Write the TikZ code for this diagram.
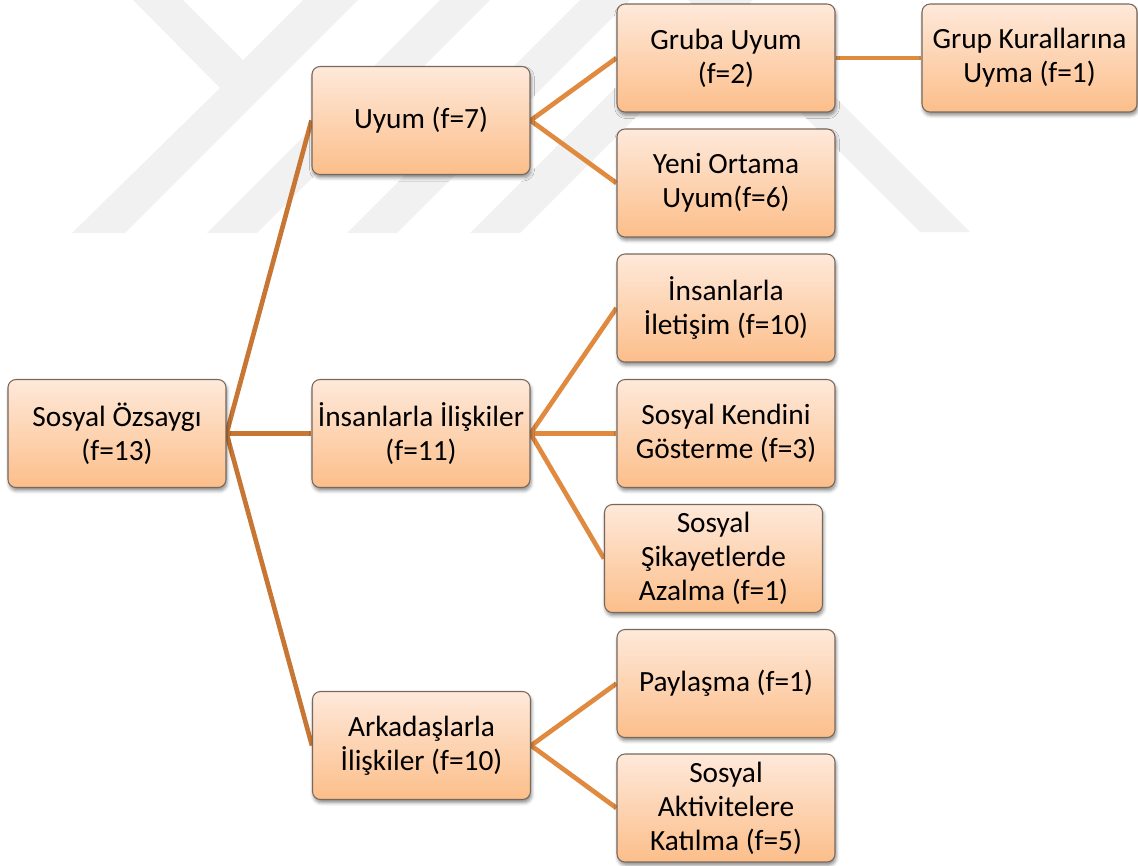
\documentclass[tikz,border=0pt]{standalone}
\usepackage{fontspec}
\setmainfont{Carlito}
\usetikzlibrary{backgrounds,shadows.blur}

\definecolor{boxtop}{RGB}{254,233,218}
\definecolor{boxbottom}{RGB}{252,190,138}
\definecolor{boxline}{RGB}{120,104,92}
\definecolor{linkdark}{RGB}{200,118,52}
\definecolor{linklight}{RGB}{224,138,64}
\definecolor{mark}{RGB}{241,241,241}

\tikzset{
  card/.style={
    draw=boxline, line width=0.8pt, rounded corners=6pt,
    top color=boxtop, bottom color=boxbottom,
    minimum width=163.5pt, minimum height=81pt,
    align=center, font=\fontsize{22}{25.5}\selectfont, text=black,
    inner sep=0pt,
    blur shadow={shadow xshift=0.8pt, shadow yshift=-2.4pt,
                 shadow blur radius=2.5pt, shadow opacity=45}
  },
  link1/.style={draw=linkdark, line width=3.5pt},
  link2/.style={draw=linklight, line width=3.5pt},
  wm/.style={fill=mark, draw=none}
}

\begin{document}
\begin{tikzpicture}[x=0.75pt,y=-0.75pt]
  \useasboundingbox (0,0) rectangle (1138,865);

  % tree of categories
  \node[card] (root)    at (117,433.5) {Sosyal Özsaygı\\(f=13)};
  \node[card] (uyum)    at (421,120.5) {Uyum (f=7)};
  \node[card] (insil)   at (421,433.5) {İnsanlarla İlişkiler\\(f=11)};
  \node[card] (arkil)   at (421.5,745.5) {Arkadaşlarla\\İlişkiler (f=10)};

  \node[card] (gruba)   at (726,58)    {Gruba Uyum\\(f=2)};
  \node[card, minimum width=161.25pt] (grupk) at (1029.5,58) {Grup Kurallarına\\Uyma (f=1)};
  \node[card] (yeni)    at (726,183)   {Yeni Ortama\\Uyum(f=6)};
  \node[card] (ilet)    at (726,308)   {İnsanlarla\\İletişim (f=10)};
  \node[card] (kendini) at (726,433.5) {Sosyal Kendini\\Gösterme (f=3)};
  \node[card] (sikayet) at (713.5,558.5) {Sosyal\\Şikayetlerde\\Azalma (f=1)};
  \node[card] (paylas)  at (726,683.5) {Paylaşma (f=1)};
  \node[card] (aktiv)   at (726,808)   {Sosyal\\Aktivitelere\\Katılma (f=5)};

  \begin{scope}[on background layer]
    % faint emblem behind the tree
    \path[wm] (133,0) -- (183,0) -- (243,60) -- (303,0) -- (358,0)
              -- (125,233) -- (72,233) -- (220,88) -- cycle;
    \path[wm] (207,233) -- (257,233) -- (490,0) -- (440,0) -- cycle;
    \path[wm] (347,233) -- (397,233) -- (630,0) -- (580,0) -- cycle;
    \path[wm] (470,233) -- (520,233) -- (753,0) -- (703,0) -- cycle;
    \path[wm] (688,0) -- (738,0) -- (970,232) -- (920,232) -- cycle;

    % connectors
    \draw[link1] (root.east) -- (uyum.west);
    \draw[link1] (root.east) -- (insil.west);
    \draw[link1] (root.east) -- (arkil.west);

    \draw[link2] (uyum.east) -- (gruba.west);
    \draw[link2] (uyum.east) -- (yeni.west);
    \draw[link2] (gruba.east) -- (grupk.west);

    \draw[link2] (insil.east) -- (ilet.west);
    \draw[link2] (insil.east) -- (kendini.west);
    \draw[link2] (insil.east) -- (sikayet.west);

    \draw[link2] (arkil.east) -- (paylas.west);
    \draw[link2] (arkil.east) -- (aktiv.west);
  \end{scope}
\end{tikzpicture}
\end{document}
